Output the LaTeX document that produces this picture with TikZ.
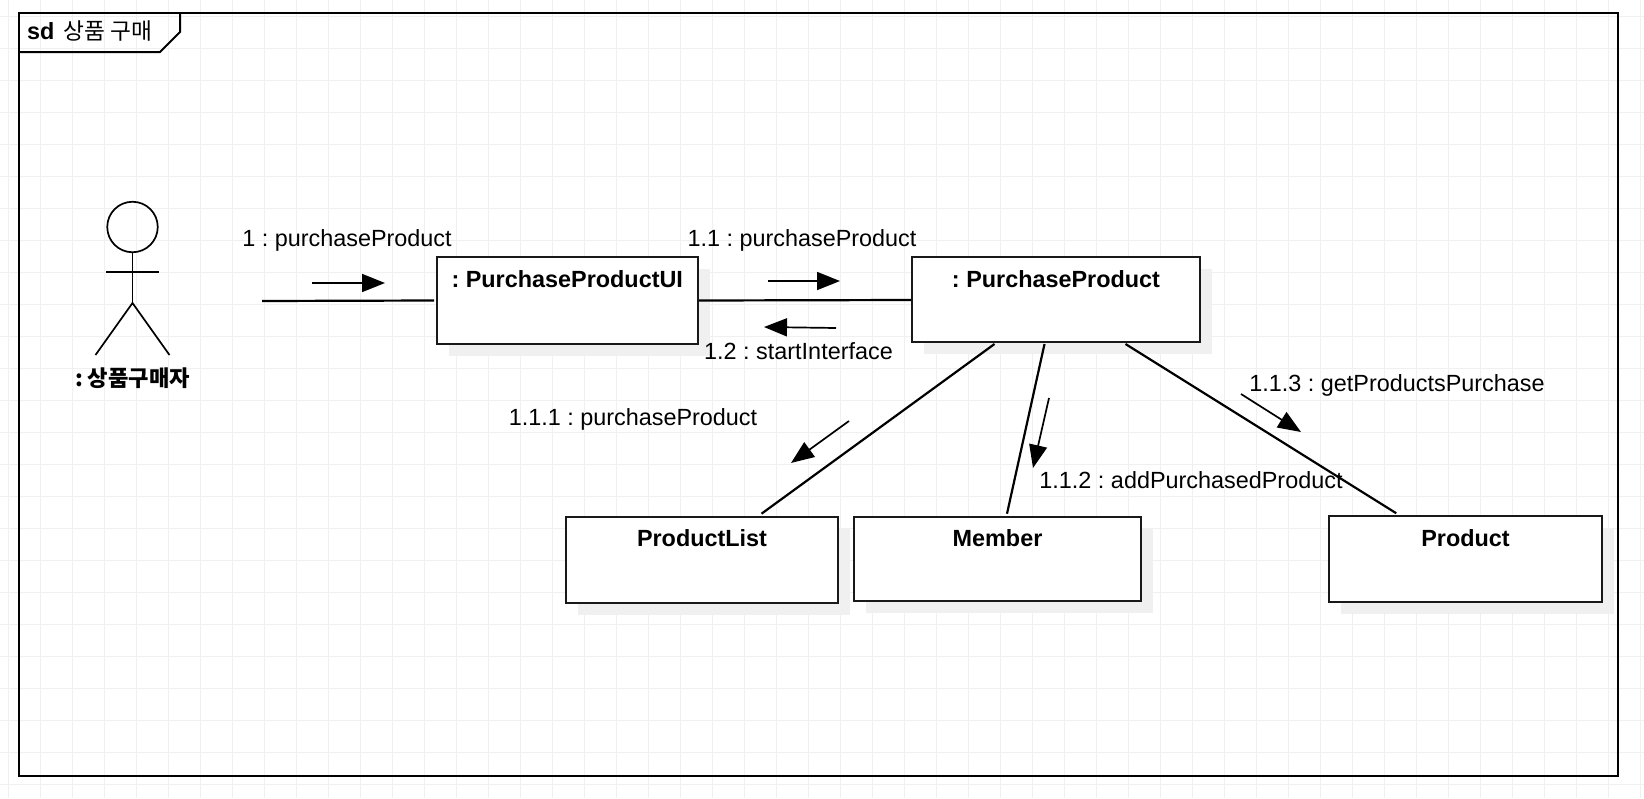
\documentclass[tikz,border=0pt]{standalone}
\usepackage{fontspec}
\setmainfont{Liberation Sans}
\newfontfamily\krfont{Noto Sans CJK KR}
\usetikzlibrary{arrows.meta,shadows}
\frenchspacing
\tikzset{
  gridline/.style={draw=black!6,line width=1pt},
  objbox/.style={draw=black!90,line width=2pt,fill=white,inner sep=0pt,
    drop shadow={shadow xshift=12pt,shadow yshift=-12pt,fill=black!6,opacity=1}},
  boxtitle/.style={font=\fontsize{23.4}{26}\selectfont\bfseries,anchor=center,inner sep=0pt},
  msg/.style={font=\fontsize{23.4}{26}\selectfont,inner sep=0pt,anchor=center},
  link/.style={draw=black,line width=2.2pt},
  arrowline/.style={draw=black,line width=1.7pt,-{Triangle[length=23pt,width=18pt]}},
  stick/.style={draw=black,line width=1.7pt},
}
\begin{document}
\begin{tikzpicture}[x=1pt,y=-1pt]
\useasboundingbox (0,0) rectangle (1644,798);
\fill[white] (0,0) rectangle (1644,798);
\foreach \gx in {0,...,51} {\draw[gridline] ({8+32*\gx},0) -- ({8+32*\gx},798);}
\foreach \gy in {0,...,24} {\draw[gridline] (0,{16+32*\gy}) -- (1644,{16+32*\gy});}

% frame
\node[draw=black,line width=2pt,inner sep=0pt,minimum width=1599pt,minimum height=763pt] (frame) at (818.5,394.5) {};
\draw[black,line width=2pt] ([yshift=-40pt]frame.north west) -- ([xshift=142pt,yshift=-40pt]frame.north west)
  -- ([xshift=162pt,yshift=-20pt]frame.north west) -- ([xshift=162pt]frame.north west);
\node[inner sep=0pt,anchor=west,font=\fontsize{23.4}{26}\selectfont] (title) at (27,31)
  {\textbf{sd}\hspace{9pt}{\krfont\fontsize{22.7}{26}\selectfont 상품 구매}};

% actor
\node[draw=black,line width=1.7pt,circle,inner sep=0pt,minimum size=50.5pt] (head) at (132.5,227) {};
\coordinate (hip) at (132.5,303);
\coordinate (armL) at (106,272);
\coordinate (armR) at (159,272);
\coordinate (footL) at (95.5,355);
\coordinate (footR) at (169.5,355);
\draw[stick] (head.south) -- (hip);
\draw[stick] (armL) -- (armR);
\draw[stick] (footL) -- (hip) -- (footR);
\node[inner sep=0pt,font=\krfont\bfseries\fontsize{22.2}{26}\selectfont] (actorlabel) at (132.5,378) {: 상품구매자};

% objects
\node[objbox,minimum width=261.5pt,minimum height=87pt,
  label={[boxtitle,yshift=-23pt]north:: PurchaseProductUI}] (ui) at (567.25,300.5) {};
\node[objbox,minimum width=288pt,minimum height=85pt,
  label={[boxtitle,yshift=-23pt]north:: PurchaseProduct}] (pp) at (1056,299.5) {};
\node[objbox,minimum width=272pt,minimum height=86pt,
  label={[boxtitle,yshift=-22pt]north:ProductList}] (pl) at (702,559.7) {};
\node[objbox,minimum width=287pt,minimum height=84pt,
  label={[boxtitle,yshift=-22pt]north:Member}] (mem) at (997.5,558.7) {};
\node[objbox,minimum width=272.5pt,minimum height=85.5pt,
  label={[boxtitle,yshift=-22.5pt]north:Product}] (prod) at (1465.5,559) {};

% links
\coordinate (actorport) at (262,301);
\draw[link] (actorport) -- ([xshift=-1.5pt]ui.west);
\draw[link] (ui.east) -- ([yshift=-0.5pt]pp.west);
\draw[link] ([xshift=83.5pt,yshift=-1pt]pp.south west) -- ([xshift=196.5pt,yshift=2pt]pl.north west);
\draw[link] ([xshift=133.5pt,yshift=-1pt]pp.south west) -- ([xshift=154pt,yshift=2pt]mem.north west);
\draw[link] ([xshift=214.5pt,yshift=-1pt]pp.south west) -- ([xshift=68pt,yshift=2pt]prod.north west);

% message arrows
\coordinate (a1s) at (312,283); \coordinate (a1e) at (385,283);
\coordinate (a2s) at (768,281); \coordinate (a2e) at (840,281);
\coordinate (a3s) at (836,328); \coordinate (a3e) at (764,327);
\coordinate (a4s) at (849,421); \coordinate (a4e) at (791,463);
\coordinate (a5s) at (1049,398); \coordinate (a5e) at (1033,468);
\coordinate (a6s) at (1241,394); \coordinate (a6e) at (1301,432);
\draw[arrowline] (a1s) -- (a1e);
\draw[arrowline] (a2s) -- (a2e);
\draw[arrowline] (a3s) -- (a3e);
\draw[arrowline] (a4s) -- (a4e);
\draw[arrowline] (a5s) -- (a5e);
\draw[arrowline] (a6s) -- (a6e);

% message labels
\node[msg] (m1) at (347,240) {1 : purchaseProduct};
\node[msg] (m2) at (802,240) {1.1 : purchaseProduct};
\node[msg] (m3) at (798.5,351.5) {1.2 : startInterface};
\node[msg] (m4) at (633,419) {1.1.1 : purchaseProduct};
\node[msg] (m5) at (1191,480) {1.1.2 : addPurchasedProduct};
\node[msg] (m6) at (1397,385) {1.1.3 : getProductsPurchase};
\end{tikzpicture}
\end{document}
